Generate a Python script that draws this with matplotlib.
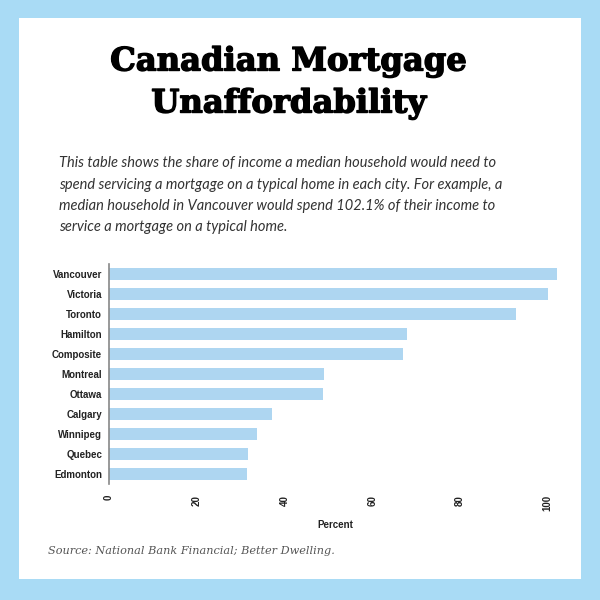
import matplotlib
matplotlib.use("Agg")
import matplotlib.pyplot as plt
from matplotlib.patches import Rectangle
import matplotlib.patheffects as pe

cities = ["Vancouver", "Victoria", "Toronto", "Hamilton", "Composite", "Montreal",
          "Ottawa", "Calgary", "Winnipeg", "Quebec", "Edmonton"]
percent = [102.1, 100.2, 92.8, 67.9, 67.0, 49.0, 48.8, 37.1, 33.7, 31.8, 31.5]
x_ticks = [0, 20, 40, 60, 80, 100]

title_lines = ["Canadian Mortgage", "Unaffordability"]
subtitle_lines = [
    "This table shows the share of income a median household would need to",
    "spend servicing a mortgage on a typical home in each city. For example, a",
    "median household in Vancouver would spend 102.1% of their income to",
    "service a mortgage on a typical home.",
]
source = "Source: National Bank Financial; Better Dwelling."

W, H = 600, 600
fig = plt.figure(figsize=(6, 6), dpi=100)
fig.patch.set_facecolor("#a9dbf5")

def fx(px):
    return px / W

def fy(py):
    return 1 - py / H

# white panel
fig.add_artist(Rectangle((fx(19), fy(579)), fx(581) - fx(19), fy(18) - fy(579),
                         transform=fig.transFigure, facecolor="white",
                         edgecolor="none", zorder=0))

# title
stroke = [pe.withStroke(linewidth=1.0, foreground="black")]
fig.text(fx(289), fy(62), title_lines[0], ha="center", va="center",
         fontsize=23.2, fontweight="bold", family="DejaVu Serif", color="black",
         path_effects=stroke)
fig.text(fx(289), fy(104), title_lines[1], ha="center", va="center",
         fontsize=23.2, fontweight="bold", family="DejaVu Serif", color="black",
         path_effects=stroke)

# subtitle
for i, line in enumerate(subtitle_lines):
    fig.text(fx(59), fy(163 + i * 21.5), line, ha="left", va="center",
             fontsize=10.5, style="italic", family="Lato", color="#333333")

# chart
left, right, top, bottom = 109, 560.7, 264, 484
ax = fig.add_axes([fx(left), fy(bottom), fx(right) - fx(left), (bottom - top) / H])
ax.set_facecolor("none")
y = list(range(len(cities)))
ax.barh(y, percent, height=0.6, color="#aed6f1", zorder=2)
ax.set_ylim(len(cities) - 0.5, -0.5)
ax.set_xlim(0, 103)
ax.set_yticks(y)
ax.set_yticklabels(cities, fontsize=7, fontweight="bold", family="Liberation Sans",
                   color="#222222")
ax.set_xticks(x_ticks)
ax.set_xticklabels([str(t) for t in x_ticks], rotation=90, fontsize=7,
                   fontweight="bold", family="Liberation Sans", color="#222222")
ax.tick_params(axis="both", length=0)
ax.tick_params(axis="y", pad=5)
ax.tick_params(axis="x", pad=8)
for s in ["top", "right", "bottom"]:
    ax.spines[s].set_visible(False)
ax.spines["left"].set_color("#888888")
ax.spines["left"].set_linewidth(1.2)
ax.set_xlabel("Percent", fontsize=7, fontweight="bold", family="Liberation Sans",
              color="#222222", labelpad=6)

fig.text(fx(48), fy(551), source, ha="left", va="center", fontsize=8.1,
         style="italic", family="DejaVu Serif", color="#555555")

fig.savefig("out.png", dpi=100, facecolor=fig.get_facecolor())
